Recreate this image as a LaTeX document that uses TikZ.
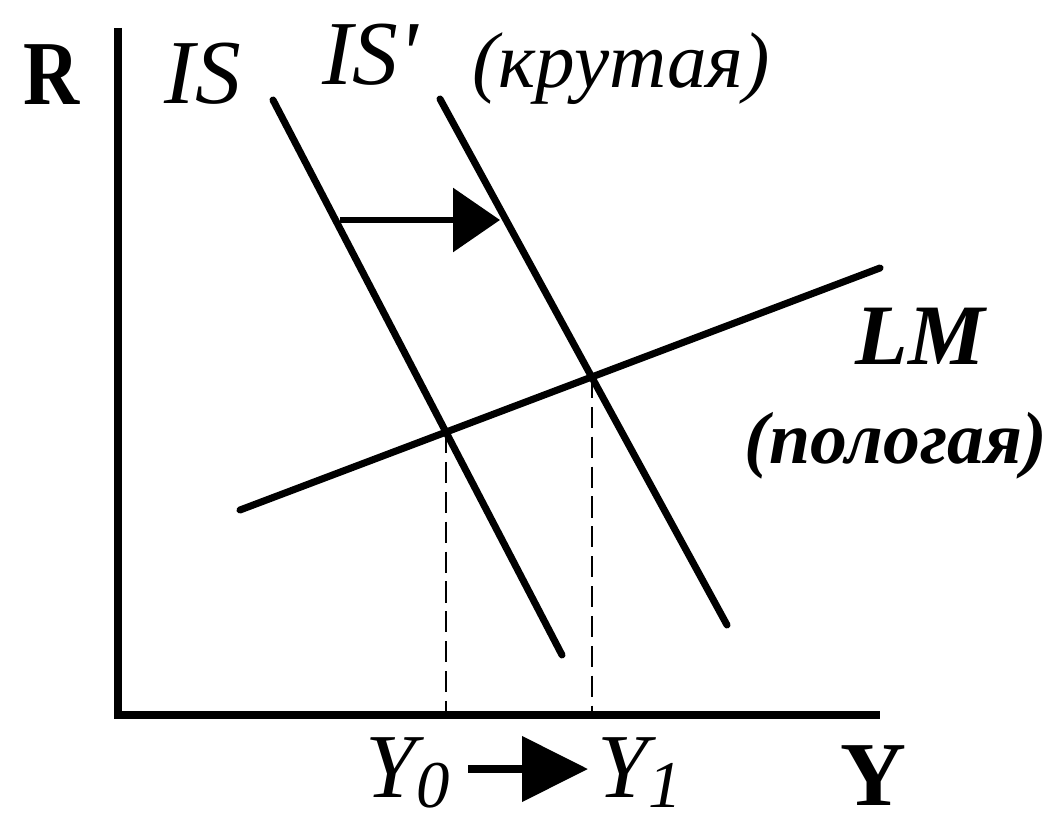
\documentclass[tikz,border=0pt]{standalone}
\usepackage{fontspec}
\setmainfont{Liberation Serif}
\usetikzlibrary{arrows.meta}
\tikzset{
  curve/.style={line width=4pt, line cap=round},
  axisline/.style={line width=4.4pt},
  guide/.style={line width=1.4pt, dash pattern=on 12pt off 5pt},
  biglbl/.style={font=\fontsize{52}{52}\selectfont\itshape},
  axlbl/.style={font=\fontsize{52}{52}\selectfont\bfseries},
  notelbl/.style={font=\fontsize{45}{45}\selectfont\itshape}
}
\newcommand{\lowidx}[1]{{\fontsize{38}{38}\selectfont\raisebox{-6pt}{#1}}}

\begin{document}
\begin{tikzpicture}
  \useasboundingbox (0,0) rectangle (21.08,16.5);

  % Axes
  \coordinate (O) at (2.36,2.2);
  \coordinate (Rtop) at (2.36,15.94);
  \coordinate (Yend) at (17.6,2.2);
  \draw[axisline] (Rtop) -- (O) -- (Yend);
  \node[axlbl, xscale=0.85] (R) at (1.04,15.0) {R};
  \node[axlbl, anchor=base] (Y) at (17.46,0.4) {Y};

  % IS and IS' curves
  \coordinate (IS1) at (5.46,14.5);
  \coordinate (IS2) at (11.24,3.4);
  \coordinate (ISp1) at (8.8,14.52);
  \coordinate (ISp2) at (14.54,4.0);
  \draw[curve] (IS1) -- (IS2);
  \draw[curve] (ISp1) -- (ISp2);
  \node[biglbl] (ISlbl) at (4.06,15.02) {IS};
  \node[biglbl] (ISplbl) at (7.4,15.4) {IS\textquotesingle};
  \node[notelbl] (steep) at (12.42,15.12) {(крутая)};

  % LM curve
  \coordinate (LM1) at (4.8,6.3);
  \coordinate (LM2) at (17.6,11.14);
  \draw[curve] (LM1) -- (LM2);
  \node[font=\fontsize{49}{49}\selectfont\bfseries\itshape] (LMlbl) at (18.4,9.78) {LM};
  \node[font=\fontsize{42}{42}\selectfont\bfseries\itshape] (flat) at (17.92,7.58) {(пологая)};

  % Shift of IS
  \coordinate (S0) at (6.8,12.1);
  \coordinate (S1) at (10.0,12.1);
  \draw[-{Triangle[length=0.94cm, width=1.26cm]}, line width=3.6pt] (S0) -- (S1);

  % Equilibria and guides
  \coordinate (E0) at (intersection of IS1--IS2 and LM1--LM2);
  \coordinate (E1) at (intersection of ISp1--ISp2 and LM1--LM2);
  \draw[guide] (E0) -- (E0 |- O);
  \draw[guide] (E1) -- (E1 |- O);

  % Output labels
  \node[biglbl, anchor=base west, inner sep=0pt] (Y0) at (7.3,0.56) {Y\lowidx{0}};
  \node[biglbl, anchor=base west, inner sep=0pt] (Y1) at (11.94,0.56) {Y\lowidx{1}};
  \coordinate (A0) at (9.36,1.12);
  \coordinate (A1) at (11.76,1.12);
  \draw[-{Triangle[length=1.32cm, width=1.28cm]}, line width=4.5pt] (A0) -- (A1);
\end{tikzpicture}
\end{document}
